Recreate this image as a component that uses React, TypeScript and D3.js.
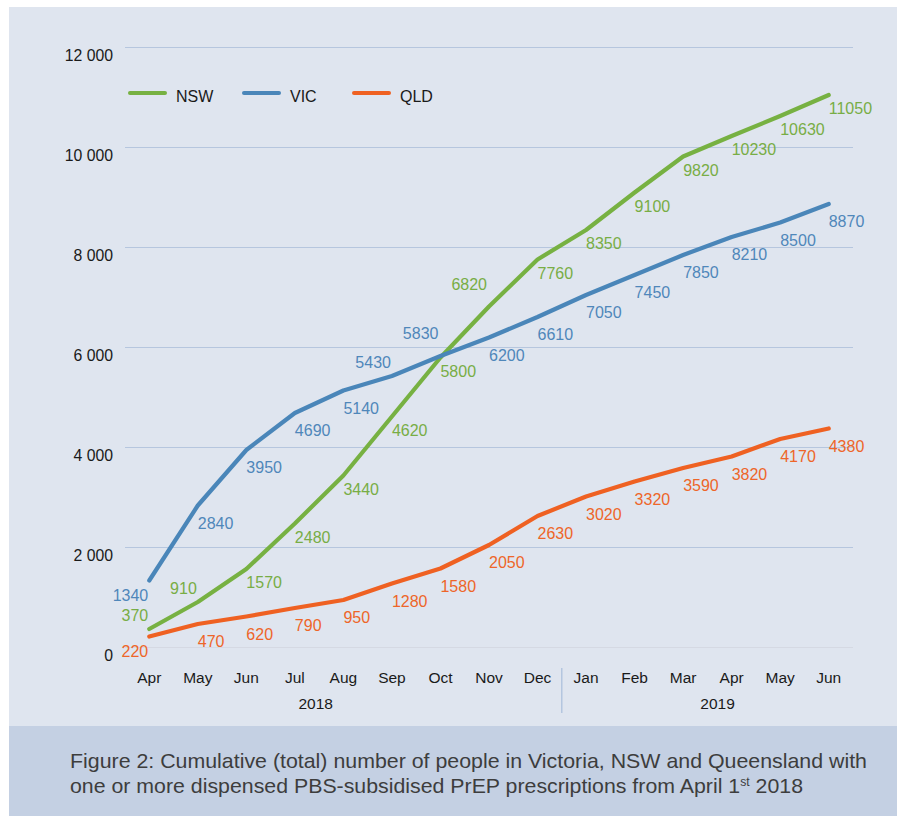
import React from "react";
import * as d3 from "d3";

const months = ["Apr", "May", "Jun", "Jul", "Aug", "Sep", "Oct", "Nov", "Dec", "Jan", "Feb", "Mar", "Apr", "May", "Jun"];
const years = [
  { label: "2018", pos: 3.93 },
  { label: "2019", pos: 12.21 },
];
const nsw = [370, 910, 1570, 2480, 3440, 4620, 5800, 6820, 7760, 8350, 9100, 9820, 10230, 10630, 11050];
const vic = [1340, 2840, 3950, 4690, 5140, 5430, 5830, 6200, 6610, 7050, 7450, 7850, 8210, 8500, 8870];
const qld = [220, 470, 620, 790, 950, 1280, 1580, 2050, 2630, 3020, 3320, 3590, 3820, 4170, 4380];
const yTicks = [0, 2000, 4000, 6000, 8000, 10000, 12000];

// label placement codes: br = below-right, al = above-left, AL = higher above-left, bl = below-left
const nswPlace = ["al", "al", "br", "br", "br", "br", "br", "AL", "br", "br", "br", "br", "br", "br", "br"];
const vicPlace = ["bl", "br", "br", "br", "br", "al", "AL", "br", "br", "br", "br", "br", "br", "br", "br"];
const qldPlace = ["bl", "br", "br", "br", "br", "br", "br", "br", "br", "br", "br", "br", "br", "br", "br"];

const series = [
  { name: "NSW", values: nsw, place: nswPlace, color: "#77b142", text: "#78ad45", below: 19 },
  { name: "VIC", values: vic, place: vicPlace, color: "#4a86b9", text: "#4f87ba", below: 23 },
  { name: "QLD", values: qld, place: qldPlace, color: "#ef6122", text: "#ee6529", below: 23 },
];

const FONT = "'Liberation Sans', Arial, Helvetica, sans-serif";

export default function App() {
  const W = 900;
  const H = 816;
  const x = d3.scaleBand<number>().domain(d3.range(months.length)).range([125, 853]).padding(0);
  const bw = x.bandwidth();
  const px = (i: number) => (x(i) as number) + bw / 2;
  const y = d3.scaleLinear().domain([0, 12000]).range([647.5, 47.5]);
  const line = d3
    .line<number>()
    .x((_, i) => px(i))
    .y((d) => y(d));

  const legendX = [130, 244, 354];

  return (
    <svg
      width={W}
      height={H}
      style={{ position: "absolute", left: 0, top: 0, fontFamily: FONT }}
    >
      <rect x={0} y={0} width={W} height={H} fill="#ffffff" />
      <rect x={9} y={7} width={888} height={719} fill="#dfe5ef" />
      <rect x={9} y={726} width={888} height={90} fill="#c4d0e3" />

      {/* gridlines */}
      {yTicks.map((t) => (
        <line
          key={"g" + t}
          x1={125}
          x2={853}
          y1={y(t)}
          y2={y(t)}
          stroke={t === 0 ? "#d5d9e3" : "#b6c6de"}
          strokeWidth={1.2}
        />
      ))}
      {yTicks.map((t) => (
        <text
          key={"t" + t}
          x={113}
          y={y(t) + 13.5}
          textAnchor="end"
          fontSize={15.8}
          fill="#1a1a1a"
        >
          {t === 0 ? "0" : d3.format(",")(t).replace(",", " ")}
        </text>
      ))}

      {/* x axis labels */}
      {months.map((m, i) => (
        <text key={"m" + i} x={px(i)} y={683} textAnchor="middle" fontSize={15.5} fill="#1a1a1a">
          {m}
        </text>
      ))}
      {years.map((yr) => (
        <text
          key={yr.label}
          x={125 + yr.pos * bw}
          y={709}
          textAnchor="middle"
          fontSize={15.5}
          fill="#1a1a1a"
        >
          {yr.label}
        </text>
      ))}
      <line x1={x(9) as number} x2={x(9) as number} y1={668} y2={713} stroke="#a9bedb" strokeWidth={1.2} />

      {/* lines */}
      {series.map((s) => (
        <path
          key={s.name}
          d={line(s.values) as string}
          fill="none"
          stroke={s.color}
          strokeWidth={4.2}
          strokeLinejoin="round"
          strokeLinecap="round"
        />
      ))}

      {/* data labels */}
      {series.map((s) =>
        s.values.map((v, i) => {
          const p = s.place[i];
          const cx = px(i);
          const cy = y(v);
          let anchor = "start";
          let dy = s.below;
          let dx = 0;
          if (p === "al") {
            anchor = "end";
            dy = -8;
            dx = -1;
          } else if (p === "AL") {
            anchor = "end";
            dy = -17;
            dx = -2;
          } else if (p === "bl") {
            anchor = "end";
            dy = 20;
            dx = -1;
          }
          return (
            <text
              key={s.name + i}
              x={cx + dx}
              y={cy + dy}
              textAnchor={anchor}
              fontSize={16}
              fill={s.text}
            >
              {v}
            </text>
          );
        })
      )}

      {/* legend */}
      {series.map((s, i) => (
        <g key={"lg" + s.name}>
          <line
            x1={legendX[i]}
            x2={legendX[i] + 35}
            y1={93}
            y2={93}
            stroke={s.color}
            strokeWidth={4}
            strokeLinecap="round"
          />
          <text x={legendX[i] + 46} y={102} fontSize={16} fill="#1a1a1a">
            {s.name}
          </text>
        </g>
      ))}

      {/* caption */}
      <text x={70} y={768} fontSize={21} fill="#3d3d3d" textLength={797} lengthAdjust="spacingAndGlyphs">
        Figure 2: Cumulative (total) number of people in Victoria, NSW and Queensland with
      </text>
      <text x={70} y={793} fontSize={21} fill="#3d3d3d" textLength={733} lengthAdjust="spacingAndGlyphs">
        one or more dispensed PBS-subsidised PrEP prescriptions from April 1
        <tspan fontSize={12} dy={-7}>st</tspan>
        <tspan dy={7}> 2018</tspan>
      </text>
    </svg>
  );
}
